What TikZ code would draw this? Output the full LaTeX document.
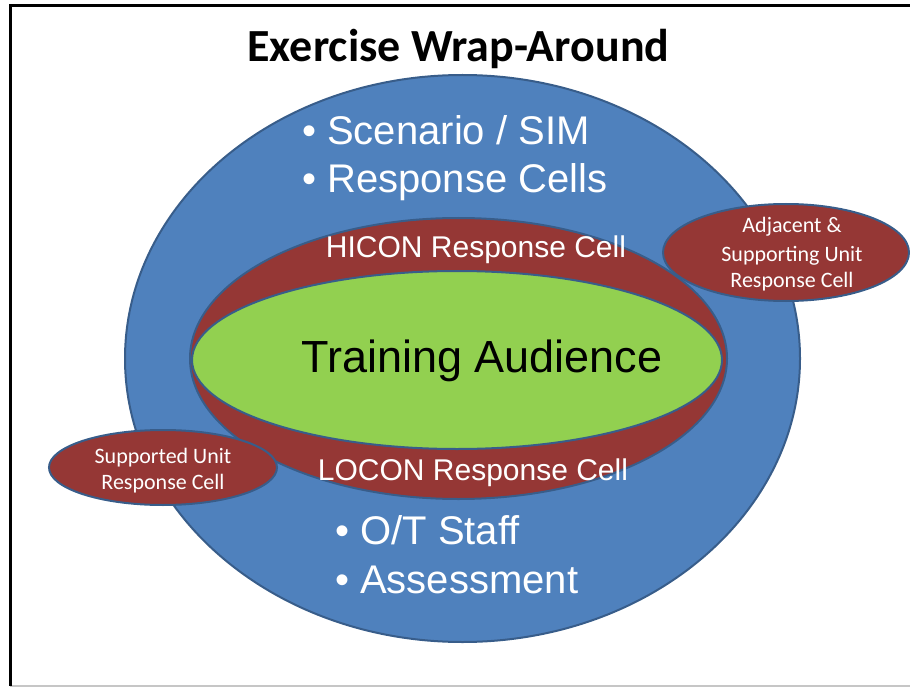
\documentclass[tikz,border=0pt]{standalone}
\usepackage{fontspec}
\setmainfont{Liberation Sans}
\newfontfamily\calib{Carlito}
\usetikzlibrary{shapes.geometric}
\definecolor{blueF}{HTML}{4F81BD}
\definecolor{edgeC}{HTML}{385D8A}
\definecolor{redF}{HTML}{953735}
\definecolor{greenF}{HTML}{92D050}
\tikzset{
  blob/.style={ellipse, draw=edgeC, line width=2pt, inner sep=0pt},
  smallcell/.style={anchor=base, text=white, font=\calib\fontsize{22}{26}\selectfont, inner sep=0pt},
  bullettext/.style={anchor=base west, text=white, font=\fontsize{40}{46}\selectfont, inner sep=0pt},
  celltext/.style={anchor=base, text=white, font=\fontsize{30}{36}\selectfont, inner sep=0pt}
}
\begin{document}
\begin{tikzpicture}[x=1pt,y=-1pt]
\useasboundingbox (0,0) rectangle (910,687);
\clip (0,0) rectangle (910,687);
% frame
\coordinate (ftl) at (10.3,5.7);
\coordinate (ftr) at (912,5.7);
\coordinate (fbl) at (10.3,686);
\coordinate (fbr) at (912,686);
\draw[gray!45, line width=1.2pt] (fbl) -- (fbr);
\draw[black, line width=3.6pt] (ftr) -- (ftl) -- (fbl);
% title
\node[anchor=base, font=\calib\bfseries\fontsize{46}{52}\selectfont, inner sep=0pt] (title) at (458.5,62) {Exercise Wrap-Around};
% ellipses
\node[blob, fill=blueF, minimum width=675pt, minimum height=567pt] (wrap) at (462.5,358.5) {};
\node[blob, fill=redF, minimum width=537pt, minimum height=281pt] (con) at (458.5,358.5) {};
\node[blob, fill=greenF, minimum width=530pt, minimum height=178pt] (ta) at (457,360) {};
\node[blob, fill=redF, minimum width=246pt, minimum height=97pt] (adj) at (786,252.5) {};
\node[blob, fill=redF, minimum width=228pt, minimum height=75pt] (sup) at (163,467.5) {};
% texts
\node[bullettext] (b1) at (302,145) {• Scenario / SIM};
\node[bullettext] (b2) at (302,193) {• Response Cells};
\node[bullettext] (b3) at (335,544) {• O/T Staff};
\node[bullettext] (b4) at (335,593) {• Assessment};
\node[celltext] (hicon) at (476,258) {HICON Response Cell};
\node[celltext] (locon) at (473,480) {LOCON Response Cell};
\node[anchor=base, font=\fontsize{45}{50}\selectfont, inner sep=0pt] (talabel) at (482,372) {Training Audience};
\node[smallcell] (adj1) at (792,233) {Adjacent \&};
\node[smallcell] (adj2) at (792,261) {Supporting Unit};
\node[smallcell] (adj3) at (792,287) {Response Cell};
\node[smallcell] (sup1) at (163,463) {Supported Unit};
\node[smallcell] (sup2) at (163,489) {Response Cell};
\end{tikzpicture}
\end{document}
